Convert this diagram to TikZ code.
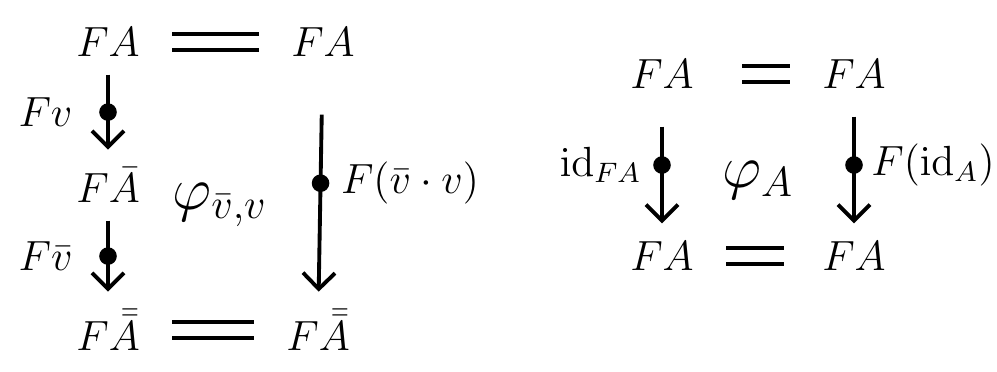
\documentclass[tikz,border=0pt]{standalone}
\usepackage{amsmath}
\usepackage{amssymb}
\usepackage{tikz}
\usetikzlibrary{positioning,arrows.meta}

\begin{document}
\begin{tikzpicture}[on grid,
obj/.style={font=\large, inner sep=5pt},
lbl/.style={font=\large, inner sep=1pt},
cell/.style={font=\LARGE},
arrow/.style={-{Straight Barb[length=1.6mm,width=3.2mm]}, line width=1.1pt},
eq/.style={double, double distance=3.5pt, line width=1pt, shorten <=4pt, shorten >=4pt},
dotmark/.style={circle, fill, inner sep=0pt, minimum size=5pt}
]
\useasboundingbox (0,0) rectangle (9.97,-3.71);

% left square
\node[obj] (a) at (1.08,-0.42) {$FA$};
\node[obj, right=2.15cm of a] (b) {$FA$};
\node[obj, below=1.43cm of a] (c) {$F\bar A$};
\node[obj, below=1.45cm of c] (d) {$F\bar{\bar A}$};
\node[obj, right=2.1cm of d] (e) {$F\bar{\bar A}$};
\node[cell, below right=0.2cm and 1.12cm of c] (phi) {$\varphi_{\bar v,v}$};

\draw[eq] (a) -- (b);
\draw[eq] (d) -- (e);
\draw[arrow] (a) -- node[dotmark] {} node[lbl, left=0.3cm] {$Fv$} (c);
\draw[arrow] (c) -- node[dotmark] {} node[lbl, left=0.3cm] {$F\bar v$} (d);
\draw[arrow, shorten <=0.4cm] (b) -- node[dotmark] {} node[lbl, right=0.15cm] {$F(\bar v\cdot v)$} (e);

% right square
\node[obj] (p) at (6.62,-0.74) {$FA$};
\node[obj, right=1.92cm of p] (q) {$FA$};
\node[obj, below=1.82cm of p] (r) {$FA$};
\node[obj, right=1.92cm of r] (s) {$FA$};
\node[cell, below right=1.06cm and 0.96cm of p] (phiA) {$\varphi_A$};

\draw[eq, shorten <=0.3cm] (p) -- (q);
\draw[eq, shorten >=0.2cm] (r) -- (s);
\draw[arrow, shorten <=0.2cm] (p) -- node[dotmark] {} node[lbl, left=0.15cm] {$\mathrm{id}_{FA}$} (r);
\draw[arrow, shorten <=0.1cm] (q) -- node[dotmark] {} node[lbl, right=0.12cm] {$F(\mathrm{id}_A)$} (s);
\end{tikzpicture}
\end{document}
